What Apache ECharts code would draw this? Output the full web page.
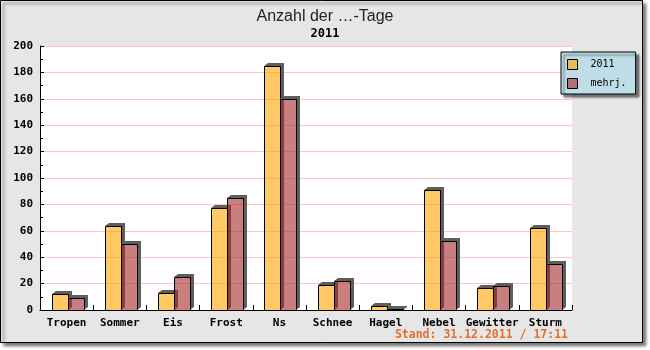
<!DOCTYPE html>
<html>
<head>
<meta charset="utf-8">
<script src="https://cdn.jsdelivr.net/npm/echarts@6/dist/echarts.min.js"></script>
<style>
  html, body { margin: 0; padding: 0; background: #fff; }
  #chart { width: 650px; height: 350px; }
</style>
</head>
<body>
<div id="chart"></div>
<script>
// Days per weather category, 2011 vs. long-term mean
const categories = ['Tropen', 'Sommer', 'Eis', 'Frost', 'Ns', 'Schnee', 'Hagel', 'Nebel', 'Gewitter', 'Sturm'];
const days2011 = [12, 64, 13, 77, 185, 19, 3, 91, 17, 62];
const daysMulti = [9, 50, 25, 85, 160, 22, 1, 52, 18, 35];
const seriesNames = ['2011', 'mehrj.'];
const yTicks = { min: 0, max: 200, step: 20 };

const MONO = '"DejaVu Sans Mono", "Liberation Mono", monospace';
const SHADOW_DX = 4, SHADOW_DY = 3;

// Bar with a bevelled drop shadow drawn behind it (L-shaped, so the
// semi-transparent bar itself is not darkened by its own shadow).
function barRenderer(side) {
  return function (params, api) {
    const idx = api.value(0);
    const val = api.value(1);
    const base = api.coord([idx, 0]);
    const top = api.coord([idx, val]);
    const band = api.size([1, 0])[0];
    const w = Math.round(band * 0.3);
    const cx = Math.round(base[0]) + 1;
    const x0 = side === 0 ? cx - w : cx;
    const x1 = x0 + w;
    const yb = Math.round(base[1]);
    const yt = Math.round(top[1]);
    return {
      type: 'group',
      children: [
        {
          type: 'polygon',
          shape: {
            points: [
              [x0, yt], [x0 + SHADOW_DX, yt - SHADOW_DY], [x1 + SHADOW_DX, yt - SHADOW_DY],
              [x1 + SHADOW_DX, yb - SHADOW_DY], [x1, yb], [x1, yt]
            ]
          },
          style: { fill: '#5e5e5e' }
        },
        {
          type: 'rect',
          shape: { x: x0 + 0.5, y: yt + 0.5, width: w, height: Math.max(yb - yt, 0) },
          style: { fill: api.visual('color'), stroke: '#000', lineWidth: 1 }
        }
      ]
    };
  };
}

const chart = echarts.init(document.getElementById('chart'), null, { renderer: 'canvas' });

chart.setOption({
  backgroundColor: '#fff',
  animation: false,
  graphic: [
    {
      type: 'rect',
      z: -100,
      silent: true,
      shape: { x: 0.5, y: 0.5, width: 642, height: 342 },
      style: {
        fill: '#e6e6e6', stroke: '#000', lineWidth: 1,
        shadowBlur: 3, shadowOffsetX: 3, shadowOffsetY: 3, shadowColor: 'rgba(0,0,0,0.55)'
      }
    }
  ],
  title: [
    {
      text: 'Anzahl der …-Tage',
      left: 'center', top: 9, padding: 0,
      textStyle: { fontFamily: '"Liberation Sans", Arial, sans-serif', fontSize: 16, fontWeight: 'normal', color: '#222' }
    },
    {
      text: '2011',
      left: 'center', top: 28, padding: 0,
      textStyle: { fontFamily: MONO, fontSize: 12, fontWeight: 'bold', color: '#000' }
    },
    {
      text: 'Stand: 31.12.2011 / 17:11',
      right: 82, top: 329, padding: 0,
      textStyle: { fontFamily: MONO, fontSize: 11.5, fontWeight: 'bold', color: '#e0702a' }
    }
  ],
  legend: {
    data: seriesNames,
    orient: 'vertical',
    left: 561, top: 52,
    padding: [7, 9, 5, 6],
    itemGap: 8,
    itemWidth: 10, itemHeight: 10,
    icon: 'rect',
    backgroundColor: '#bfdde6',
    borderColor: '#000', borderWidth: 1,
    shadowColor: 'rgba(0,0,0,0.5)', shadowBlur: 2, shadowOffsetX: 3, shadowOffsetY: 3,
    itemStyle: { borderColor: '#000', borderWidth: 1 },
    textStyle: { fontFamily: MONO, fontSize: 10, color: '#000', padding: [0, 0, 0, 8] }
  },
  grid: {
    left: 40, right: 78, top: 46, bottom: 40,
    show: true, backgroundColor: '#fff', borderWidth: 0
  },
  xAxis: {
    type: 'category',
    data: categories,
    boundaryGap: true,
    axisLine: { lineStyle: { color: '#000', width: 1 } },
    axisTick: { show: true, inside: true, length: 5, interval: 0, lineStyle: { color: '#000' } },
    axisLabel: { interval: 0, margin: 8, fontFamily: MONO, fontSize: 11, fontWeight: 'bold', color: '#000' },
    splitLine: { show: false }
  },
  yAxis: {
    type: 'value',
    min: yTicks.min, max: yTicks.max, interval: yTicks.step,
    axisLine: { show: true, lineStyle: { color: '#000', width: 1 } },
    axisTick: { show: true, inside: true, length: 4, lineStyle: { color: '#000' } },
    minorTick: { show: true, splitNumber: 2, length: 3, lineStyle: { color: '#000' } },
    axisLabel: { margin: 7, fontFamily: MONO, fontSize: 11, fontWeight: 'bold', color: '#000' },
    splitLine: { show: true, lineStyle: { color: '#ffc4c4', width: 1 } }
  },
  series: [
    {
      name: seriesNames[0],
      type: 'custom',
      renderItem: barRenderer(0),
      itemStyle: { color: 'rgba(255,165,0,0.6)' },
      encode: { x: 0, y: 1 },
      data: days2011.map((v, i) => [i, v])
    },
    {
      name: seriesNames[1],
      type: 'custom',
      renderItem: barRenderer(1),
      itemStyle: { color: 'rgba(165,42,42,0.6)' },
      encode: { x: 0, y: 1 },
      data: daysMulti.map((v, i) => [i, v])
    }
  ]
});
</script>
</body>
</html>
